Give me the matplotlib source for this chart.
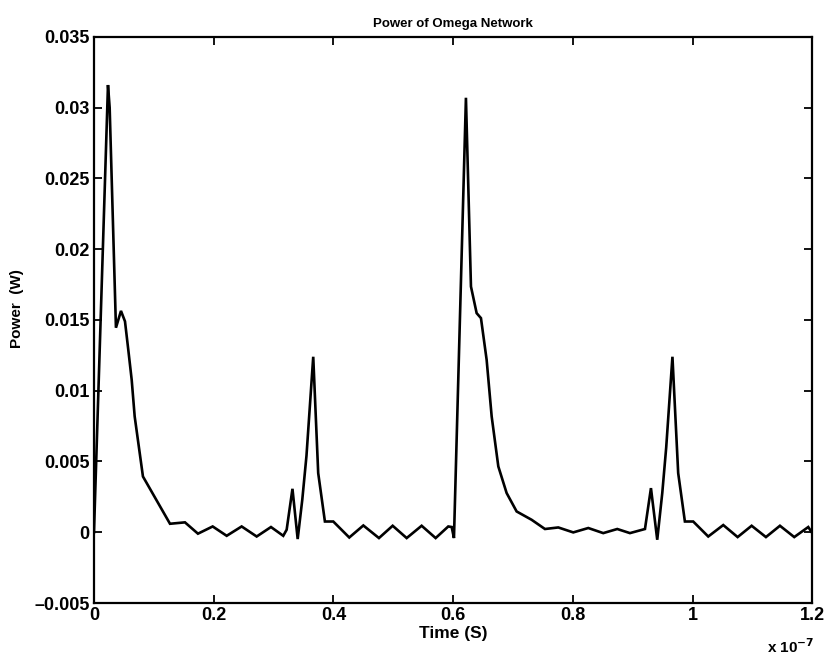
import numpy as np
import matplotlib
matplotlib.use("Agg")
import matplotlib.pyplot as plt
from matplotlib.ticker import FuncFormatter, MultipleLocator

# Simulated power trace of the Omega network (time in units of 1e-7 s, power in W)
time_e7 = [
    0.0000, 0.0234, 0.0262, 0.0367, 0.0451, 0.0518, 0.0573, 0.0630, 0.0680, 0.0818,
    0.1270, 0.1520, 0.1737, 0.1983, 0.2217, 0.2467, 0.2718, 0.2957, 0.3162, 0.3219,
    0.3316, 0.3403, 0.3480, 0.3550, 0.3663, 0.3746, 0.3858, 0.3998, 0.4265, 0.4500,
    0.4761, 0.4990, 0.5224, 0.5474, 0.5708, 0.5919, 0.5976, 0.6014, 0.6214, 0.6298,
    0.6393, 0.6465, 0.6560, 0.6644, 0.6755, 0.6894, 0.7061, 0.7312, 0.7534, 0.7757,
    0.8007, 0.8258, 0.8508, 0.8742, 0.8954, 0.9205, 0.9305, 0.9410, 0.9494, 0.9560,
    0.9664, 0.9760, 0.9872, 1.0011, 1.0262, 1.0513, 1.0753, 1.0987, 1.1226, 1.1460,
    1.1699, 1.1933, 1.2000,
]
power_w = [
    0.00000, 0.03160, 0.03000, 0.01445, 0.01564, 0.01490, 0.01290, 0.01077, 0.00818, 0.00394,
    0.00060, 0.00070, -0.00010, 0.00041, -0.00025, 0.00041, -0.00030, 0.00037, -0.00025, 0.00018,
    0.00307, -0.00048, 0.00230, 0.00540, 0.01240, 0.00418, 0.00076, 0.00076, -0.00037, 0.00048,
    -0.00041, 0.00046, -0.00041, 0.00046, -0.00041, 0.00041, 0.00037, -0.00041, 0.03070, 0.01736,
    0.01548, 0.01513, 0.01218, 0.00818, 0.00465, 0.00277, 0.00147, 0.00088, 0.00023, 0.00034,
    -0.00001, 0.00030, -0.00006, 0.00023, -0.00006, 0.00023, 0.00312, -0.00053, 0.00277, 0.00600,
    0.01240, 0.00418, 0.00076, 0.00076, -0.00030, 0.00051, -0.00034, 0.00046, -0.00034, 0.00046,
    -0.00034, 0.00037, -0.00006,
]

title = "Power of Omega Network"
x_label = "Time (S)"
y_label = "Power  (W)"

time_s = np.array(time_e7) * 1e-7

plt.rcParams["font.family"] = ["Liberation Sans", "DejaVu Sans"]
plt.rcParams["font.weight"] = "bold"

fig = plt.figure(figsize=(8.28, 6.61), dpi=100)
ax = fig.add_axes([0.1135, 0.0877, 0.8675, 0.8565])

ax.plot(time_s, power_w, color="black", linewidth=1.9, solid_joinstyle="miter")

ax.set_xlim(0, 1.2e-7)
ax.set_ylim(-0.005, 0.035)
ax.xaxis.set_major_locator(MultipleLocator(0.2e-7))
ax.yaxis.set_major_locator(MultipleLocator(0.005))
ax.xaxis.set_major_formatter(FuncFormatter(lambda v, p: f"{round(v / 1e-7, 3):g}"))
ax.yaxis.set_major_formatter(
    FuncFormatter(lambda v, p: f"{round(v, 4):g}".replace("-", "\u2013")))

ax.tick_params(direction="in", length=6, width=1.3, top=True, right=True,
               labelsize=13, pad=3)
for lab in ax.get_xticklabels() + ax.get_yticklabels():
    lab.set_fontweight("bold")
for sp in ax.spines.values():
    sp.set_linewidth(1.6)

ax.set_title(title, fontsize=9.5, fontweight="bold", pad=7)
ax.set_xlabel(x_label, fontsize=12.5, fontweight="bold", labelpad=1)
ax.set_ylabel(y_label, fontsize=11, fontweight="bold", labelpad=3)
ax.yaxis.set_label_coords(-0.098, 0.52)

fig.text(0.984, 0.022, r"x 10$^{-7}$", ha="right", va="center",
         fontsize=11, fontweight="bold")

fig.savefig("out.png", dpi=100)
